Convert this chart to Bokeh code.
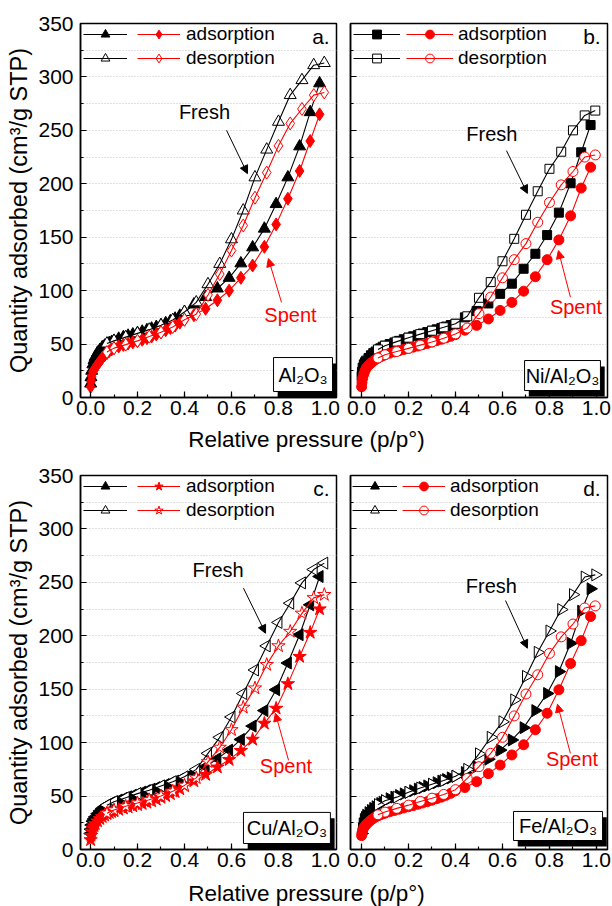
import numpy as np
from bokeh.plotting import figure
from bokeh.models import (Legend, LegendItem, Label, Arrow, NormalHead, BoxAnnotation,
                          SingleIntervalTicker, FixedTicker, NumeralTickFormatter, Range1d,
                          CustomLabelingPolicy)
from bokeh.layouts import column, row
from bokeh.embed import file_html
from bokeh.resources import INLINE

FONT = "Liberation Sans"

# relative pressure (p/p°) of the adsorption and desorption branches
P_ADS = [0.0005, 0.002, 0.005, 0.01, 0.015, 0.02, 0.03, 0.04, 0.05, 0.06, 0.07, 0.08, 0.09,
         0.10, 0.12, 0.14, 0.16, 0.18, 0.20, 0.22, 0.24, 0.26, 0.28, 0.30, 0.32, 0.34, 0.36,
         0.38, 0.40, 0.44, 0.49, 0.54, 0.59, 0.64, 0.69, 0.74, 0.79, 0.84, 0.89, 0.935, 0.975]
P_DES = [0.995, 0.95, 0.90, 0.85, 0.80, 0.75, 0.70, 0.65, 0.60, 0.55, 0.50, 0.45, 0.40,
         0.35, 0.30, 0.25, 0.20, 0.15, 0.10, 0.07]

# a. Al2O3
a_fresh_ads = [13, 19, 25, 31, 35, 38, 42, 44.5, 47, 48.5, 50, 51, 52, 53, 55, 56.5, 57.8, 59,
               60.3, 61.6, 63, 64.5, 66, 67.7, 69.5, 71.5, 73.8, 76.5, 80,
               87, 94, 102, 112, 125.5, 140.5, 158, 181, 206, 235, 267, 294]
a_fresh_des = [313, 311, 297, 283, 258, 232, 206, 175, 148, 125, 106, 89, 80, 72.5, 67.5, 63.5,
               60, 56.5, 53, 50.5]
a_spent_ads = [10, 15, 20, 24, 26, 27.5, 31, 34, 37, 39.5, 41.5, 43.5, 45, 46.2, 47.8, 49.2, 50.5,
               51.6, 52.7, 54, 55.5, 57, 59, 61, 63, 65, 67.3, 70, 72.8,
               77, 83, 91, 100, 112, 123.5, 141, 162, 186, 212, 240, 265]
a_spent_des = [285.5, 283, 270, 256.5, 235.5, 210.5, 187, 161, 137.5, 115.5, 96, 78, 72.8, 66, 61,
               57, 53, 49.5, 46.2, 42.5]

# b. Ni/Al2O3
b_fresh_ads = [20, 24, 28, 31, 33, 34.5, 37, 39.5, 41.5, 43, 44.5, 46, 47.5, 48.5, 50, 51.5, 53,
               54.5, 56, 57.3, 58.6, 59.9, 61.2, 62.5, 63.8, 65.1, 66.4, 67.8, 69,
               75, 81, 88, 97, 106.5, 120.5, 134.5, 152, 173, 200.5, 229.5, 255]
b_fresh_des = [268.5, 264, 250, 230, 214, 193, 171, 148.5, 127.5, 108, 93.3, 76, 69, 65.7, 62.5,
               59.3, 56, 52.3, 48.5, 45]
b_spent_ads = [10, 14, 18, 22, 25, 27.5, 30, 32, 34, 35.5, 37, 38, 39, 40, 41.5, 42.7, 43.8, 44.9,
               46, 47.1, 48.2, 49.4, 50.6, 51.9, 53.2, 54.5, 55.9, 57.3, 58.8,
               63, 67.5, 73.5, 81.5, 89, 99.5, 113, 129, 147.5, 170, 196, 215.5]
b_spent_des = [227, 225, 211.5, 199, 182.5, 164, 144, 129, 112, 94, 78.5, 65, 59.5, 55.5, 52, 49,
               46, 43, 40, 37]

# c. Cu/Al2O3
c_fresh_ads = [15, 19, 23, 26.5, 28.5, 30.5, 33.5, 36, 38.4, 40, 41.5, 42.8, 43.8, 44.7, 46.3,
               47.8, 49.3, 50.8, 52.3, 53.7, 55.1, 56.5, 57.9, 59.3, 60.8, 62.3, 63.9, 65.6, 67.5,
               72, 77.5, 85, 93, 103, 115.5, 130, 149.5, 174.5, 201, 229, 255.5]
c_fresh_des = [268, 262, 249.5, 230.5, 212.5, 190.5, 168, 146, 124, 105, 90, 75, 68, 63.5, 59.5,
               55.5, 52.3, 48.5, 44.7, 41.5]
c_spent_ads = [9, 13, 17, 20, 22, 24, 26.5, 28.7, 30.6, 32, 33.3, 34.4, 35.3, 36, 37.3, 38.5, 39.6,
               40.6, 41.7, 42.8, 44, 45.3, 46.8, 48.5, 50.2, 52, 54, 56.5, 59.5,
               64, 70, 77, 84, 92.5, 103, 118, 132, 155, 180.5, 203, 225]
c_spent_des = [238.5, 235.5, 221, 204, 190.5, 173, 151, 133, 112, 95.5, 82, 67, 60, 54.5, 50,
               46.5, 43.5, 40.5, 37, 34]

# d. Fe/Al2O3
d_fresh_ads = [15, 19.5, 24, 28, 30, 32, 34.5, 36.5, 38.4, 40, 41.5, 43, 44.3, 45.6, 47.5, 49,
               50.5, 52, 53.5, 55, 56.5, 58, 59.5, 61, 62.5, 64, 65.5, 67, 68.5,
               72, 77.5, 84.5, 93, 102.5, 114, 130, 146, 166.5, 193, 223, 244]
d_fresh_des = [257, 255, 238.5, 224.5, 204.5, 184.5, 162, 140, 119.5, 105, 89.5, 75, 68.5, 64.5,
               61, 57.5, 53.5, 49, 45.6, 42]
d_spent_ads = [13, 15.5, 18, 20.5, 22, 23.5, 25.5, 27.5, 29, 30.5, 31.5, 32.5, 33.3, 34, 35.3,
               36.5, 37.7, 38.9, 40, 41.1, 42.3, 43.5, 44.8, 46.1, 47.5, 49, 50.7, 52.6, 55,
               58, 63.5, 71, 79, 88.5, 98, 112, 127.5, 149.5, 174, 195.5, 218]
d_spent_des = [228, 226, 211, 199, 183.5, 163.5, 145.5, 125, 105, 90, 77.5, 66.5, 56, 51.5, 48,
               45, 41.5, 38.5, 35, 32.5]

PANEL_LETTERS = ["a.", "b.", "c.", "d."]
MATERIALS = ["Al\u2082O\u2083", "Ni/Al\u2082O\u2083", "Cu/Al\u2082O\u2083", "Fe/Al\u2082O\u2083"]
Y_LABEL = "Quantity adsorbed (cm\u00b3/g STP)"
X_LABEL = "Relative pressure (p/p\u00b0)"
LEGEND_LABELS = ["adsorption", "desorption"]

panels = [
    dict(fa=a_fresh_ads, fd=a_fresh_des, sa=a_spent_ads, sd=a_spent_des,
         fm=("triangle", 0.0, 12), sm=("diamond", 0.0, 13), left=True,
         xr=(-0.0426, 1.047), bl=80, br=4, w=340,
         fresh=(0.485, 257, 0.579, 250, 0.668, 209.5), spent=(0.851, 67, 0.813, 89, 0.757, 130),
         box=(0.779, 1.03, 5.6, 37.4), leg=(3, 57, 44, 43, 6)),
    dict(fa=b_fresh_ads, fd=b_fresh_des, sa=b_spent_ads, sd=b_spent_des,
         fm=("square", 0.0, 9), sm=("circle", 0.0, 10), left=False,
         xr=(-0.0468, 1.047), bl=10, br=5, w=272,
         fresh=(0.555, 236.7, 0.617, 231, 0.706, 191), spent=(0.913, 74, 0.889, 94, 0.838, 137.5),
         box=(0.694, 1.017, 6.5, 34.6), leg=(3, 56, 47, 47, 5)),
    dict(fa=c_fresh_ads, fd=c_fresh_des, sa=c_spent_ads, sd=c_spent_des,
         fm=("triangle", np.pi / 2, 12), sm=("star", 0.0, 14), left=True,
         xr=(-0.0426, 1.047), bl=80, br=4, w=340,
         fresh=(0.543, 251, 0.651, 244.6, 0.745, 202.4), spent=(0.832, 67.5, 0.843, 83.4, 0.787, 127.5),
         box=(0.651, 1.021, 5.6, 34.7), leg=(3, 57, 44, 43, 6)),
    dict(fa=d_fresh_ads, fd=d_fresh_des, sa=d_spent_ads, sd=d_spent_des,
         fm=("triangle", -np.pi / 2, 12), sm=("circle", 0.0, 10), left=False,
         xr=(-0.0468, 1.047), bl=10, br=5, w=272,
         fresh=(0.553, 236, 0.613, 233, 0.706, 188.4), spent=(0.896, 74, 0.889, 90, 0.834, 136),
         box=(0.647, 1.026, 8.4, 35.6), leg=(2, 52, 45, 43, 5)),
]

FH = 374
TOP = 23
BOTTOM = 28
ROW_H = TOP + FH + BOTTOM   # 425


def make_panel(i, s):
    p = figure(width=s["w"], height=ROW_H, x_range=Range1d(*s["xr"]),
               y_range=Range1d(0, 350), output_backend="svg", toolbar_location=None,
               title=None,
               min_border_left=s["bl"], min_border_right=s["br"], min_border_top=TOP,
               min_border_bottom=BOTTOM)
    p.background_fill_color = "white"
    p.outline_line_color = "black"
    p.outline_line_width = 1.5
    p.xgrid.visible = False
    p.ygrid.ticker = FixedTicker(ticks=list(range(25, 350, 25)))
    p.ygrid.grid_line_color = "#c0c0c0"
    p.ygrid.grid_line_dash = "1 2"
    p.ygrid.grid_line_width = 1

    p.xaxis.ticker = SingleIntervalTicker(interval=0.2, num_minor_ticks=2)
    p.yaxis.ticker = SingleIntervalTicker(interval=50, num_minor_ticks=2)
    p.xaxis.formatter = NumeralTickFormatter(format="0.0")
    for ax in (p.xaxis[0], p.yaxis[0]):
        ax.axis_line_width = 1.5
        ax.axis_line_color = "black"
        ax.major_tick_in = 6
        ax.major_tick_out = 0
        ax.minor_tick_in = 3
        ax.minor_tick_out = 0
        ax.major_tick_line_width = 1.2
        ax.minor_tick_line_width = 1.2
        ax.major_label_text_font = FONT
        ax.major_label_text_font_size = "21px"
        ax.major_label_text_color = "black"
    p.xaxis.major_label_standoff = 3
    p.yaxis.major_label_standoff = 7
    if s["left"]:
        p.yaxis.axis_label = Y_LABEL
        p.yaxis.axis_label_text_font = FONT
        p.yaxis.axis_label_text_font_size = "23.5px"
        p.yaxis.axis_label_text_font_style = "normal"
        p.yaxis.axis_label_text_color = "black"
        p.yaxis.axis_label_standoff = 3
    else:
        # right-hand panels share the y scale of the left ones: ticks without numbers
        p.yaxis.major_label_policy = CustomLabelingPolicy(code="return []")
        p.yaxis.major_label_text_font_size = "0px"
        p.yaxis.major_label_standoff = 0

    items_black, items_red = [], []
    for color, ads, des, (mk, ang, sz), items in (
            ("black", s["fa"], s["fd"], s["fm"], items_black),
            ("#ff0000", s["sa"], s["sd"], s["sm"], items_red)):
        r1 = p.scatter(P_ADS, ads, marker=mk, angle=ang, size=sz, fill_color=color,
                       line_color=color, line_width=1)
        r2 = p.line(P_ADS, ads, line_color=color, line_width=1.1)
        r3 = p.scatter(P_DES, des, marker=mk, angle=ang, size=sz, fill_color="white",
                       line_color=color, line_width=1)
        r4 = p.line(P_DES, des, line_color=color, line_width=1.1)
        items.append((r1, r2))
        items.append((r3, r4))

    bx, rx, bgw, rgw, stand = s["leg"]
    leg_b = Legend(items=[LegendItem(label=" ", renderers=list(items_black[0])),
                          LegendItem(label=" ", renderers=list(items_black[1]))],
                   location=(bx, FH - 46), orientation="vertical", glyph_width=bgw,
                   glyph_height=22, label_height=22, label_width=0, label_standoff=0,
                   spacing=2, padding=0, margin=0, border_line_color=None,
                   background_fill_alpha=0, label_text_font=FONT, label_text_font_size="19px")
    leg_r = Legend(items=[LegendItem(label=LEGEND_LABELS[0], renderers=list(items_red[0])),
                          LegendItem(label=LEGEND_LABELS[1], renderers=list(items_red[1]))],
                   location=(rx, FH - 46), orientation="vertical", glyph_width=rgw,
                   glyph_height=22, label_height=22, label_standoff=stand,
                   spacing=2, padding=0, margin=0, border_line_color=None,
                   background_fill_alpha=0, label_text_font=FONT,
                   label_text_font_size="19px", label_text_color="black")
    p.add_layout(leg_b)
    p.add_layout(leg_r)

    # Fresh / Spent annotations
    tx, ty, x0, y0, x1, y1 = s["fresh"]
    p.add_layout(Label(x=tx, y=ty, text="Fresh", text_align="center", text_font=FONT,
                       text_font_size="20px", text_color="black"))
    p.add_layout(Arrow(x_start=x0, y_start=y0, x_end=x1, y_end=y1, line_color="black",
                       line_width=1,
                       end=NormalHead(size=8, fill_color="black", line_color="black")))
    tx, ty, x0, y0, x1, y1 = s["spent"]
    p.add_layout(Label(x=tx, y=ty, text="Spent", text_align="center", text_font=FONT,
                       text_font_size="20px", text_color="#ff0000"))
    p.add_layout(Arrow(x_start=x0, y_start=y0, x_end=x1, y_end=y1, line_color="#ff0000",
                       line_width=1,
                       end=NormalHead(size=8, fill_color="#ff0000", line_color="#ff0000")))

    # panel letter
    p.add_layout(Label(x=1.018, y=327, text=PANEL_LETTERS[i], text_align="right",
                       text_font=FONT, text_font_size="21px", text_color="black"))

    # material label box with drop shadow
    l, r, b, t = s["box"]
    p.add_layout(BoxAnnotation(left=l + 0.018, right=min(r + 0.018, s["xr"][1]),
                               bottom=max(b - 5.5, 0), top=t - 5.5, fill_color="black",
                               fill_alpha=1, line_color=None))
    p.add_layout(BoxAnnotation(left=l, right=r, bottom=b, top=t, fill_color="white",
                               fill_alpha=1, line_color="black", line_width=1, line_alpha=1))
    p.add_layout(Label(x=(l + r) / 2, y=(b + t) / 2, text=MATERIALS[i], text_align="center",
                       text_baseline="middle", text_font=FONT, text_font_size="20px",
                       text_color="black"))
    return p


def xlabel_fig(h, y_center):
    f = figure(width=612, height=h, x_range=Range1d(0, 612), y_range=Range1d(0, h),
               output_backend="svg", toolbar_location=None, x_axis_location=None,
               y_axis_location=None, title=None, min_border=0,
               min_border_left=0, min_border_right=0, min_border_top=0, min_border_bottom=0)
    f.grid.visible = False
    f.outline_line_color = None
    f.add_layout(Label(x=306, y=y_center, text=X_LABEL,
                       text_align="center", text_baseline="middle", text_font=FONT,
                       text_font_size="22.5px", text_color="black"))
    return f


figs = [make_panel(i, s) for i, s in enumerate(panels)]
H1 = 452 - ROW_H           # 27
H2 = 906 - 452 - ROW_H     # 29
layout = column(row(figs[0], figs[1]), xlabel_fig(H1, H1 / 2),
                row(figs[2], figs[3]), xlabel_fig(H2, H2 / 2 - 1.5))

with open("out.html", "w") as fh:
    fh.write(file_html(layout, INLINE))
